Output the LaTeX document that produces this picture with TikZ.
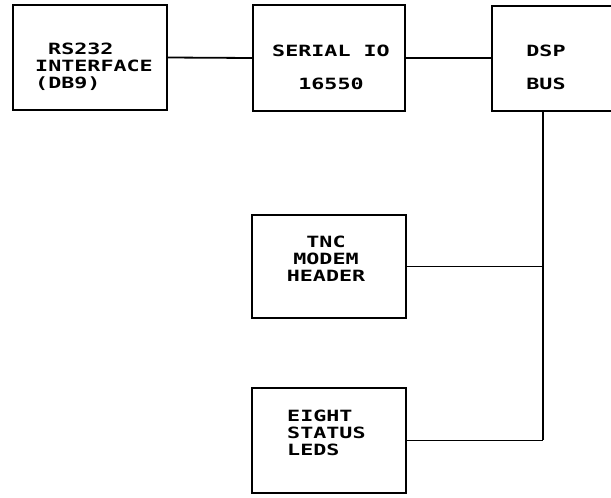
\documentclass[tikz,border=0pt]{standalone}
\usepackage{fontspec}
\newfontfamily\plotfont[FakeStretch=1.4]{DejaVu Sans Mono}
\begin{document}
\begin{tikzpicture}[x=1pt,y=-1pt,
  box/.style={draw, line width=1.8pt, inner sep=0pt},
  txt/.style={font=\plotfont\bfseries\fontsize{15.5}{17}\selectfont, inner sep=0pt},
  wire/.style={line width=1.8pt}]
\useasboundingbox (0,0) rectangle (611,498);
% boxes
\node[box, minimum width=154pt, minimum height=105pt] (rs) at (90,57.5) {};
\node[box, minimum width=152pt, minimum height=106pt] (sio) at (329,58) {};
\node[box, minimum width=122pt, minimum height=105pt] (dsp) at (553,58.5) {};
\node[box, minimum width=154pt, minimum height=103pt] (tnc) at (329,266.5) {};
\node[box, minimum width=154pt, minimum height=105pt] (eight) at (329,440.5) {};
% texts
\node[txt, align=left, anchor=west] (rst) at (35,67) {\hspace*{13pt}RS232\\INTERFACE\\(DB9)};
\node[txt, align=center] (siot) at (331,67) {SERIAL IO\\[16pt]16550};
\node[txt, align=left] (dspt) at (546,67) {DSP\\[16pt]BUS};
\node[txt, align=center] (tnct) at (326,259) {TNC\\MODEM\\HEADER};
\node[txt, align=left, anchor=west] (eightt) at (287,432.5) {EIGHT\\STATUS\\LEDS};
% connectors
\coordinate (busend) at (543,440);
\draw[wire] (rs.east) -- (sio.west);
\draw[wire] (sio.east) -- (sio.east -| dsp.west);
\draw[wire] (busend |- dsp.south) -- (busend);
\draw[wire] (tnc.east) -- (tnc.east -| busend);
\draw[wire] (eight.east) -- (eight.east -| busend);
\end{tikzpicture}
\end{document}
